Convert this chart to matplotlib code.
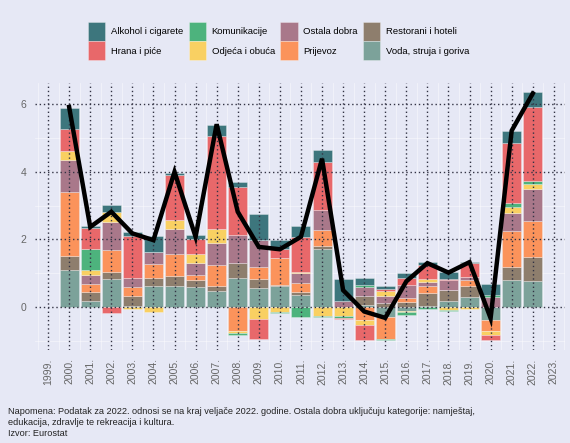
import numpy as np
import matplotlib.pyplot as plt

plt.rcParams['font.family'] = ['Liberation Sans', 'DejaVu Sans']

years = np.arange(2000, 2023)
tick_years = np.arange(1999, 2024)

# contributions by category (stacked bottom -> top)
voda = [1.09, 0.18, 0.82, 0.03, 0.63, 0.63, 0.60, 0.47, 0.87, 0.57, 0.62, 0.37, 1.72,
        0.00, 0.07, -0.28, -0.12, 0.03, 0.17, 0.29, -0.39, 0.81, 0.78]
restorani = [0.42, 0.27, 0.22, 0.30, 0.22, 0.29, 0.20, 0.15, 0.42, 0.26, 0.02, 0.08, 0.08,
             0.00, 0.25, 0.12, 0.14, 0.38, 0.34, 0.33, 0.00, 0.39, 0.71]
prijevoz = [1.90, 0.24, 0.65, 0.27, 0.42, 0.65, 0.15, 0.62, -0.70, 0.35, 0.82, 0.25, 0.49,
            0.00, -0.37, -0.67, 0.14, 0.22, 0.00, 0.17, -0.31, 1.05, 1.05]
ostala = [0.93, 0.27, 0.84, 0.25, 0.35, 0.73, 0.36, 0.67, 0.84, 0.80, 0.00, 0.30, 0.59,
          0.17, 0.27, 0.20, 0.37, 0.10, 0.28, 0.11, 0.31, 0.54, 0.94]
odjeca = [0.28, 0.15, 0.28, -0.06, -0.16, 0.28, 0.25, 0.41, -0.08, -0.34, -0.16, 0.05, -0.26,
          -0.25, -0.15, 0.17, -0.04, 0.10, -0.08, -0.06, -0.12, 0.16, 0.17]
komunikacije = [0.00, 0.62, 0.00, 0.00, 0.00, 0.00, 0.00, 0.00, -0.06, 0.00, -0.03, -0.28, -0.03,
                -0.06, 0.05, -0.02, -0.08, -0.05, -0.03, 0.00, 0.05, 0.12, 0.07]
hrana = [0.66, 0.61, -0.17, 1.25, 0.00, 1.33, 0.44, 2.73, 1.43, -0.59, 0.25, 1.01, 1.40,
         -0.04, -0.44, 0.05, 0.22, 0.42, 0.04, 0.39, -0.15, 1.79, 2.19]
alkohol = [0.61, 0.05, 0.22, 0.12, 0.48, 0.07, 0.12, 0.35, 0.13, 0.76, 0.28, 0.33, 0.38,
           0.67, 0.21, 0.08, 0.15, 0.08, 0.21, 0.05, 0.31, 0.35, 0.44]

inflacija = [5.92, 2.37, 2.82, 2.18, 1.98, 4.00, 2.08, 5.41, 2.82, 1.78, 1.71, 2.08, 4.39,
             0.50, -0.13, -0.32, 0.76, 1.30, 1.02, 1.33, -0.33, 5.22, 6.32]

series = [
    ('Voda, struja i goriva', voda, '#7ca29a'),
    ('Restorani i hoteli', restorani, '#8e7e6d'),
    ('Prijevoz', prijevoz, '#fb935b'),
    ('Ostala dobra', ostala, '#a9788a'),
    ('Odjeća i obuća', odjeca, '#f9d062'),
    ('Komunikacije', komunikacije, '#4db37d'),
    ('Hrana i piće', hrana, '#e8686a'),
    ('Alkohol i cigarete', alkohol, '#3d767d'),
]

bg = '#e6e8f5'
fig = plt.figure(figsize=(5.7, 4.43), dpi=100, facecolor=bg)
ax = fig.add_axes([35 / 570, 93 / 443, 530 / 570, 267 / 443], facecolor=bg)

# faint minor grid
for y in [-1, 1, 3, 5]:
    ax.axhline(y, color='white', lw=0.6, alpha=0.5, zorder=0)
for x in np.arange(1998.5, 2024, 1):
    ax.axvline(x, color='white', lw=0.6, alpha=0.5, zorder=0)

pos = np.zeros(len(years))
neg = np.zeros(len(years))
handles = {}
for name, vals, col in series:
    v = np.array(vals)
    b = np.where(v >= 0, pos, neg)
    h = ax.bar(years, v, bottom=b, width=0.9, color=col, edgecolor=(1, 1, 1, 0.35),
               linewidth=0.6, zorder=2)
    handles[name] = h
    pos = pos + np.where(v >= 0, v, 0)
    neg = neg + np.where(v < 0, v, 0)

ax.plot(years, inflacija, color='black', lw=3.2, zorder=4, solid_joinstyle='miter')

# dotted major grid on top
for y in [0, 2, 4, 6]:
    ax.axhline(y, color='#333344', lw=1, ls=(0, (1, 2)), zorder=3)
for x in tick_years:
    ax.axvline(x, color='#333344', lw=1, ls=(0, (1, 2)), zorder=3)

ax.set_xlim(1998.38, 2023.53)
ax.set_ylim(-1.27, 6.63)
ax.set_yticks([0, 2, 4, 6])
ax.set_xticks(tick_years)
ax.set_xticklabels([f'{y}.' for y in tick_years], rotation=90, va='top', ha='center')
ax.tick_params(length=0, labelsize=7.5, colors='#666666', pad=6)
for s in ax.spines.values():
    s.set_visible(False)

order = ['Alkohol i cigarete', 'Hrana i piće', 'Komunikacije', 'Odjeća i obuća',
         'Ostala dobra', 'Prijevoz', 'Restorani i hoteli', 'Voda, struja i goriva']
fig.legend([handles[n] for n in order], order, ncol=4, loc='upper left',
           bbox_to_anchor=(88 / 570, 1 - 22 / 443), frameon=False, fontsize=6.8,
           handlelength=1.85, handleheight=2.75, handletextpad=0.6,
           columnspacing=0.55, labelspacing=0.0, borderaxespad=0, borderpad=0)

fig.text(8 / 570, 1 - 407 / 443,
         'Napomena: Podatak za 2022. odnosi se na kraj veljače 2022. godine. Ostala dobra uključuju kategorije: namještaj,\n'
         'edukacija, zdravlje te rekreacija i kultura.\n'
         'Izvor: Eurostat',
         fontsize=6.6, color='#222222', va='top', ha='left', linespacing=1.3)

fig.savefig('out.png', dpi=100, facecolor=bg)
